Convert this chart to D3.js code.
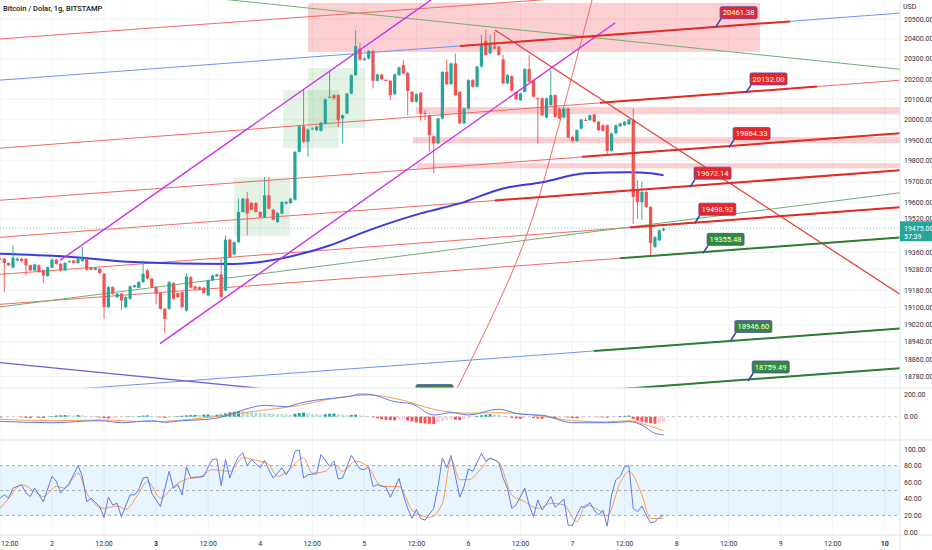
<!DOCTYPE html>
<html>
<head>
<meta charset="utf-8">
<script src="https://cdn.jsdelivr.net/npm/d3@7/dist/d3.min.js"></script>
<style>
  body { margin: 0; background: #ffffff; }
  svg { display: block; font-family: Roboto, "Liberation Sans", sans-serif; }
</style>
</head>
<body>
<svg id="chart" width="932" height="550"></svg>
<script>
// hourly candles, the first one is day 1 12:00 (hours counted from day 1 00:00)
var firstHour = 12;
var opens = [19331,19330,19310,19288,19322,19330,19330,19299,19275,19299,
  19275,19248,19288,19326,19306,19275,19316,19322,19310,19319,
  19330,19288,19278,19283,19259,19102,19196,19149,19165,19102,
  19141,19196,19193,19220,19275,19236,19196,19168,19094,19094,
  19215,19168,19172,19086,19243,19199,19196,19193,19157,19228,
  19247,19256,19180,19421,19351,19409,19553,19617,19596,19596,
  19553,19529,19633,19564,19505,19545,19593,19596,19612,19843,
  19968,19892,19955,19949,19946,19982,20110,20121,20121,20006,
  20031,20129,20220,20352,20295,20302,20340,20192,20223,20196,
  20192,20126,20220,20270,20231,20137,20088,20132,20033,20022,
  19919,19884,20006,20236,20175,20278,20137,19982,20055,20195,
  20162,20262,20391,20328,20361,20361,20298,20179,20215,20137,
  20096,20137,20250,20195,20106,20105,20011,20072,20121,20055,
  20011,20055,19916,19896,19957,19999,19998,20026,19990,19973,
  19973,19848,19933,19968,19973,19978,20001,19657,19600,19649,
  19577,19386,19417,19465];
var highs = [19336,19334,19312,19394,19338,19334,19333,19302,19306,19303,
  19278,19293,19330,19330,19309,19314,19322,19325,19334,19386,
  19335,19292,19290,19287,19262,19200,19200,19170,19168,19153,
  19205,19208,19225,19322,19280,19240,19200,19172,19098,19224,
  19220,19172,19176,19260,19248,19203,19200,19197,19232,19255,
  19260,19330,19440,19425,19413,19617,19621,19650,19600,19600,
  19556,19721,19721,19568,19552,19605,19605,19621,19848,19975,
  20146,19958,19962,19970,19990,20105,20245,20125,20125,20026,
  20133,20224,20445,20380,20310,20345,20345,20228,20227,20200,
  20196,20228,20262,20294,20235,20141,20130,20136,20047,20026,
  19923,20010,20240,20297,20282,20327,20141,20060,20200,20200,
  20266,20420,20445,20420,20436,20365,20320,20225,20220,20141,
  20133,20255,20320,20199,20110,20110,20110,20245,20125,20060,
  20060,20060,19920,19953,20005,20010,20026,20030,19994,19977,
  19977,19937,19977,19986,19994,20005,20055,19705,19700,19655,
  19581,19438,19470,19478];
var lows = [19325,19173,19295,19285,19318,19315,19251,19270,19270,19262,
  19215,19244,19284,19302,19270,19271,19312,19306,19306,19315,
  19274,19275,19274,19258,19047,19098,19160,19145,19087,19098,
  19137,19192,19190,19215,19232,19192,19118,19090,18980,19090,
  19137,19145,19098,19082,19189,19184,19180,19164,19153,19224,
  19243,19145,19176,19334,19346,19404,19549,19441,19560,19549,
  19525,19525,19565,19512,19501,19541,19589,19592,19608,19839,
  19885,19819,19950,19945,19942,19978,20105,20100,19965,19884,
  20027,20125,20216,20290,20290,20298,20154,20188,20195,20190,
  20096,20122,20216,20224,20022,20084,20084,19995,19998,19843,
  19738,19880,20002,20171,20171,20117,19978,19978,20050,20158,
  20158,20258,20316,20324,20348,20316,20175,20175,20138,20096,
  20092,20133,20183,20109,19884,20018,20006,20068,20010,20002,
  20007,19909,19892,19892,19953,19993,19994,19986,19945,19942,
  19827,19844,19929,19964,19969,19974,19495,19521,19516,19572,
  19346,19380,19412,19460];
var closes = [19330,19310,19299,19335,19330,19319,19299,19275,19303,19267,
  19251,19290,19326,19306,19275,19310,19318,19310,19330,19330,
  19278,19278,19286,19262,19102,19196,19165,19165,19133,19149,
  19199,19204,19220,19259,19236,19196,19165,19094,19047,19220,
  19141,19149,19102,19246,19193,19188,19184,19168,19228,19251,
  19256,19149,19421,19338,19409,19553,19617,19545,19564,19553,
  19529,19633,19569,19516,19548,19601,19601,19617,19843,19968,
  19892,19952,19957,19965,19985,20100,20113,20105,19998,20022,
  20129,20220,20364,20297,20302,20340,20192,20223,20199,20195,
  20121,20223,20258,20228,20142,20088,20126,20031,20031,19924,
  19884,20006,20236,20175,20278,20121,19982,20055,20195,20162,
  20262,20369,20320,20369,20352,20320,20179,20220,20142,20100,
  20129,20250,20187,20113,20105,20022,20105,20121,20014,20006,
  20055,19913,19896,19949,20001,19998,20022,19990,19949,19946,
  19848,19933,19973,19982,19990,20001,19625,19600,19649,19577,
  19405,19433,19465,19473];

var lastPrice = 19475.00;
var countdown = "57:39";

// moving average: [hour, price]
var maPoints = [[12,19354],[27,19341],[43,19314],[58,19306],[66,19305],[79,19341],[88,19393],
  [97,19465],[109,19546],[118,19594],[128,19666],[137,19696],[147,19739],[157,19744],[162,19739],[165,19729]];

// MACD pane: [hour, value]
var macdLine = [[12,-41],[24,-53],[35,-35],[40,-53],[47,-35],[50,-49],[54,-35],[60,-23],[64,6],[68,59],
  [73,100],[78,88],[81,118],[85,147],[89,162],[93,183],[95,200],[97,198],[103,133],[107,112],[112,15],
  [116,36],[120,15],[127,66],[132,22],[137,13],[144,-53],[152,-53],[157,-44],[160,-73],[163,-146],[165,-161]];
var signalLine = [[12,-23],[24,-35],[35,-29],[47,-44],[58,-15],[66,23],[70,44],[81,100],[89,162],[97,191],
  [104,153],[112,65],[117,36],[120,31],[127,36],[135,15],[144,-35],[152,-46],[157,-35],[161,-73],[165,-123]];
var macdHist = [-8,-6,-5,-4,-3, -6,-10,-12, -5,-10,-12, -4,
  6,10,12,14,12,10,14,12, 5,2,-3, -8,-12,-16,-14,-12,-6, 2,4,2,6, 10,12,8,5, -6,-10, -4,2,5,
  8,12,14,16,15,18,20,16,18,20, 30,38,44,48,48, 44,40,36,33,30,28,26,24,22,20,18,
  26,32,36, 30,25,21,17, 22,26,28, 22,18,14, 16,18,12,8,4, -6,
  -14,-22,-28,-30,-32, -26,-22, -34,-42,-50,-56,-60,-62,-64, -50,-40,-30,-22,-26,-30,-22,
  -12,-4, 6,12,18,22,20,16, 6,-2, -10,-16,-18, -10,-6, -12,-16,-18, -10, -12,-14,-8, -4,
  -8,-12,-14, -8,-4,-2,-1, -4,-6,-8,-4, 2,6,8,10, -20,-35,-45,-52,-58,-62, -56,-48];

// stochastic RSI pane: [hour, value]
var stochK = [[12,40.7],[13,44.7],[14,40.7],[15,52.8],[17,56.9],[18,46.8],[19,42.7],[20,52.8],[21,44.7],[22,36.6],
  [24,67],[25,61],[26,46.8],[27,52.8],[28,58.9],[30,80],[31,67],[32,36.6],[33,40.7],[35,30.6],[36,17.2],[37,41.9],
  [38,32.6],[39,34.6],[40,18.4],[42,44.7],[43,44.7],[44,50.8],[45,65],[46,66.2],[47,46.8],[49,30.6],[51,73.1],
  [52,52.8],[53,56.9],[54,44.7],[55,78.4],[56,65],[57,66.2],[58,66.2],[59,67],[60,78.4],[61,87.3],[62,88.1],
  [63,55.7],[64,87.3],[65,65],[66,80],[67,90.5],[68,95.4],[69,80],[70,87.3],[72,77.2],[73,86.5],[74,75.1],
  [75,65],[76,71],[77,77.2],[78,69],[79,78],[80,97],[81,99],[82,65],[83,69],[85,70.3],[86,93.4],[88,79.2],
  [89,85.3],[90,63.8],[91,65],[93,92.2],[95,76],[96,75.1],[97,78.4],[98,54.9],[99,56.9],[101,54.1],[102,41.9],
  [103,52.8],[104,64.6],[105,44.7],[106,28.5],[107,16.3],[108,27.3],[109,16.3],[110,14.3],[112,28.5],[113,54.9],
  [114,89.3],[115,77.2],[116,92.2],[118,41.9],[119,55],[120,76],[121,73.1],[123,94.6],[124,85.3],[125,89.3],
  [127,84.1],[128,65],[129,52.8],[130,28.5],[131,32.6],[133,52.8],[134,32.6],[135,18.4],[136,38.6],[137,26.5],
  [138,33.8],[139,42.7],[140,29.7],[142,39.5],[143,8.3],[144,7.9],[145,20.4],[146,30.6],[147,29.7],[148,35.4],
  [149,26.5],[150,20.4],[151,26.5],[152,7.1],[153,44.7],[154,63],[155,67],[156,78.4],[157,80],[158,28.5],
  [159,24.5],[160,31.4],[161,20.4],[162,11],[163,12.3],[164,17.6],[165,20.4]];
var stochD = [[12,28.5],[14,40.7],[17,56.9],[20,48.8],[22,42.7],[25,54.9],[27,52.8],[30,71],[32,46.8],[36,28.5],
  [39,31.4],[41,27.3],[44,46.8],[46,61],[49,40.7],[52,54.9],[55,63.8],[58,66.2],[61,75.1],[65,73.1],[68,89.3],
  [71,86.5],[74,81.2],[76,67],[78,71.9],[82,89.3],[84,71],[87,73.1],[89,81.2],[91,73.1],[94,85.3],[97,77.2],
  [100,54.9],[104,54.9],[107,26.5],[110,18.4],[111,17.6],[114,34.6],[116,87.3],[118,63],[120,63],[123,76.6],
  [125,88.1],[127,84.1],[130,44.7],[133,36.6],[136,28.5],[139,34.6],[142,32.6],[145,12.3],[147,32.6],[150,26.5],
  [152,19.2],[155,59.4],[157,73.1],[160,44.7],[162,16.3],[165,16.3]];

// axes
var priceTicks = [20500,20400,20300,20200,20100,20000,19900,19800,19700,19600,19520,19360,19280,19180,19100,19020,18940,18860,18780];
var macdTicks = [200, 0];
var rsiTicks = [100, 80, 60, 40, 20, 0];
var timeTicks = [12,24,36,48,60,72,84,96,108,120,132,144,156,168,180,192,204,216];
var timeLabels = ["12:00","2","12:00","3","12:00","4","12:00","5","12:00","6","12:00","7","12:00","8","12:00","9","12:00","10"];
var boldTimeLabels = ["3", "10"];

// drawings: [kind, hour1, price1, hour2, price2, extend]
var drawnLines = [
  ["redThin", 12.01, 20400, 216.74, 20723, "both"],
  ["blueThin", 12.01, 20195, 216.74, 20525, "both"],
  ["redThin", 12.01, 19861, 216.74, 20190, "both"],
  ["redThin", 12.01, 19609, 216.74, 19929, "both"],
  ["redThin", 12.01, 19432, 216.74, 19749, "both"],
  ["redThin", 12.01, 19256, 216.74, 19571, "both"],
  ["redThin", 12.01, 19115, 216.74, 19427, "both"],
  ["greenThin", 12.01, 19103, 216.74, 19638, "both"],
  ["blueThin", 12.01, 18697, 216.74, 18998, "both"],
  ["blueThin", 12.01, 18511, 216.74, 18814, "both"],
  ["violet", 12.01, 18844, 72.2, 18725, "right"],
  ["greenThin", 65.04, 20596, 216.74, 20255, "both"],
  ["magenta", 48.9, 18932, 153.8, 20480, "none"],
  ["magenta", 25.85, 19322, 111.4, 20596, "none"],
  ["redTrend", 126.1, 20445, 216.74, 19199, "right"],
  ["redThick", 118.07, 20365, 194.15, 20488, "none"],
  ["redThick", 150.34, 20083, 200.37, 20163, "none"],
  ["redThick", 146.2, 19819, 216.74, 19929, "right"],
  ["redThick", 126.1, 19608, 216.74, 19749, "right"],
  ["redThick", 157.26, 19479, 216.74, 19571, "right"],
  ["greenThick", 154.96, 19332, 216.74, 19427, "right"],
  ["greenThick", 148.96, 18898, 216.74, 18998, "right"],
  ["greenThick", 107.0, 18651, 216.74, 18814, "right"]
];
// curved drawing: [hour, price]
var arcPoints = [[117.4,18725],[131.2,19322],[139.5,19866],[147.3,20495],[148.5,20596]];

// price labels on the lines
var labelHours = [177.1, 184.0, 180.1, 171.1, 172.2, 174.1, 180.5, 184.5, 107.0];
var labelPrices = [20461.38, 20132.00, 19864.33, 19672.14, 19498.92, 19355.48, 18946.60, 18759.49, 18651.00];
var labelKinds = ["red","red","red","red","red","green","green","green","green"];

// rectangles: [hour1, price1, hour2, price2]
var pinkBoxes = [[83.0,20581,187.2,20335],[107.9,20062,219.5,20027.5],[107.2,19915,219.5,19885],[108.2,19788,219.5,19763]];
var greenBoxes = [[66.0,19720,78.9,19437],[77.3,20146,90.2,19861],[83.0,20255,96.2,19959]];

var svg = d3.select("#chart");
var W = 932, H = 550, plotW = 900;
var mainB = 388, macdB = 440, rsiB = 535;

var x = d3.scaleLinear().domain([12.01, 219.5]).range([0, plotW]);
var y = d3.scaleLog().domain([18780, 20500]).range([376.5, 19]);
var yMacd = d3.scaleLinear().domain([0, 200]).range([416.7, 394]);
var yRsi = d3.scaleLinear().domain([0, 100]).range([532, 449]);

var styles = {
  redThin: {c: "#f26a62", w: 1},
  blueThin: {c: "#6f93ee", w: 1},
  greenThin: {c: "#72ad74", w: 1},
  violet: {c: "#6b5fd8", w: 1.2},
  magenta: {c: "#cc2fe6", w: 1.4},
  redTrend: {c: "#e8413a", w: 1.3},
  redThick: {c: "#e52a23", w: 2},
  greenThick: {c: "#2e7d32", w: 2}
};

var defs = svg.append("defs");
function addClip(id, top, bottom) {
  defs.append("clipPath").attr("id", id).append("rect")
    .attr("x", 0).attr("y", top).attr("width", plotW).attr("height", bottom - top);
}
addClip("clipMain", 0, mainB);
addClip("clipMacd", mainB, macdB);
addClip("clipRsi", macdB, rsiB);

// grid
var grid = svg.append("g");
grid.selectAll("line.vg").data(timeTicks).enter().append("line").attr("class", "vg")
  .attr("x1", d => x(d)).attr("x2", d => x(d)).attr("y1", 0).attr("y2", rsiB)
  .attr("stroke", "#f1f3f6").attr("stroke-width", 1);
grid.selectAll("line.hg").data(priceTicks).enter().append("line").attr("class", "hg")
  .attr("x1", 0).attr("x2", plotW).attr("y1", d => y(d)).attr("y2", d => y(d))
  .attr("stroke", "#f1f3f6").attr("stroke-width", 1);

// main pane
var main = svg.append("g").attr("clip-path", "url(#clipMain)");

function boxRect(g, data, fill) {
  g.selectAll(null).data(data).enter().append("rect")
    .attr("x", d => x(d[0])).attr("y", d => y(d[1]))
    .attr("width", d => x(d[2]) - x(d[0])).attr("height", d => y(d[3]) - y(d[1]))
    .attr("fill", fill);
}
boxRect(main, pinkBoxes, "rgba(242,54,69,0.24)");
boxRect(main, greenBoxes, "rgba(76,175,80,0.15)");

// current price line
main.append("line").attr("x1", 0).attr("x2", plotW)
  .attr("y1", y(lastPrice)).attr("y2", y(lastPrice))
  .attr("stroke", "#9fd3cc").attr("stroke-width", 1).attr("stroke-dasharray", "1,2");

function linePoints(d) {
  var x1 = x(d[1]), y1 = y(d[2]), x2 = x(d[3]), y2 = y(d[4]);
  var m = (y2 - y1) / (x2 - x1);
  if (d[5] === "both") { y1 = y1 - m * x1; x1 = 0; }
  if (d[5] === "both" || d[5] === "right") { y2 = y2 + m * (plotW - x2); x2 = plotW; }
  return [x1, y1, x2, y2];
}

var thinKinds = drawnLines.filter(d => d[0] !== "redThick" && d[0] !== "greenThick");
var thickKinds = drawnLines.filter(d => d[0] === "redThick" || d[0] === "greenThick");

function drawLines(data) {
  main.selectAll(null).data(data).enter().append("line")
    .each(function(d) {
      var p = linePoints(d);
      d3.select(this).attr("x1", p[0]).attr("y1", p[1]).attr("x2", p[2]).attr("y2", p[3]);
    })
    .attr("stroke", d => styles[d[0]].c)
    .attr("stroke-width", d => styles[d[0]].w);
}
drawLines(thinKinds.filter(d => d[0] !== "magenta" && d[0] !== "redTrend"));

main.append("path").datum(arcPoints)
  .attr("d", d3.line().x(d => x(d[0])).y(d => y(d[1])).curve(d3.curveNatural))
  .attr("fill", "none").attr("stroke", "#f26a62").attr("stroke-width", 1);

// moving average
main.append("path").datum(maPoints)
  .attr("d", d3.line().x(d => x(d[0])).y(d => y(d[1])).curve(d3.curveMonotoneX))
  .attr("fill", "none").attr("stroke", "#3b3be0").attr("stroke-width", 2);

// candles
var candles = d3.range(opens.length).map(function(i) {
  return {h: firstHour + i, o: opens[i], hi: highs[i], lo: lows[i], c: closes[i]};
});
var up = "#26a69a", down = "#ef5350";
var cg = main.selectAll("g.candle").data(candles).enter().append("g").attr("class", "candle");
cg.append("line")
  .attr("x1", d => x(d.h)).attr("x2", d => x(d.h))
  .attr("y1", d => y(d.hi)).attr("y2", d => y(d.lo))
  .attr("stroke", d => d.c >= d.o ? up : down).attr("stroke-width", 0.9);
cg.append("rect")
  .attr("x", d => x(d.h) - 1.6).attr("width", 3.2)
  .attr("y", d => y(Math.max(d.o, d.c)))
  .attr("height", d => Math.max(1, y(Math.min(d.o, d.c)) - y(Math.max(d.o, d.c))))
  .attr("fill", d => d.c >= d.o ? up : down);

drawLines(thinKinds.filter(d => d[0] === "magenta" || d[0] === "redTrend"));
drawLines(thickKinds);

// labels on the lines
var labels = labelHours.map((h, i) => ({h: h, p: labelPrices[i], k: labelKinds[i]}));
var lg = main.selectAll("g.lbl").data(labels).enter().append("g").attr("class", "lbl")
  .attr("transform", d => "translate(" + x(d.h) + "," + y(d.p) + ")");
lg.append("line").attr("x1", 0).attr("y1", 0).attr("x2", 5).attr("y2", -8)
  .attr("stroke", "#3f4aa8").attr("stroke-width", 1.6);
lg.append("rect").attr("x", 4).attr("y", -20).attr("width", 37).attr("height", 12).attr("rx", 1.5)
  .attr("fill", d => d.k === "red" ? "#e5262a" : "#2f8a3c")
  .attr("stroke", "#5848a8").attr("stroke-width", 0.8);
lg.append("text").attr("x", 22.5).attr("y", -11.3).attr("text-anchor", "middle")
  .attr("font-size", 7.6).attr("fill", "#ffffff")
  .text(d => d.p.toFixed(2));

// MACD pane
var macdG = svg.append("g").attr("clip-path", "url(#clipMacd)");
macdG.append("line").attr("x1", 0).attr("x2", plotW).attr("y1", yMacd(0)).attr("y2", yMacd(0))
  .attr("stroke", "#b2b5be").attr("stroke-width", 0.8).attr("stroke-dasharray", "3,3");
macdG.selectAll("rect.hb").data(macdHist).enter().append("rect").attr("class", "hb")
  .attr("x", (d, i) => x(firstHour + i) - 1.5).attr("width", 3)
  .attr("y", d => Math.min(yMacd(0), yMacd(d)))
  .attr("height", d => Math.abs(yMacd(d) - yMacd(0)))
  .attr("fill", function(d, i) {
    var prev = i > 0 ? macdHist[i - 1] : d;
    if (d >= 0) return prev < d ? "#26a69a" : "#b2dfdb";
    return prev < d ? "#ffcdd2" : "#ff5252";
  });
var lm = d3.line().x(d => x(d[0])).y(d => yMacd(d[1])).curve(d3.curveMonotoneX);
macdG.append("path").datum(signalLine).attr("d", lm).attr("fill", "none").attr("stroke", "#ff9a4a").attr("stroke-width", 1);
macdG.append("path").datum(macdLine).attr("d", lm).attr("fill", "none").attr("stroke", "#5b7cf0").attr("stroke-width", 1);

// stochastic RSI pane
var rsiG = svg.append("g").attr("clip-path", "url(#clipRsi)");
rsiG.append("rect").attr("x", 0).attr("width", plotW)
  .attr("y", yRsi(80)).attr("height", yRsi(20) - yRsi(80)).attr("fill", "rgba(33,150,243,0.1)");
rsiG.selectAll("line.rl").data([80, 50, 20]).enter().append("line").attr("class", "rl")
  .attr("x1", 0).attr("x2", plotW).attr("y1", d => yRsi(d)).attr("y2", d => yRsi(d))
  .attr("stroke", "#9598a1").attr("stroke-width", 0.8).attr("stroke-dasharray", "3,3");
rsiG.append("path").datum(stochD)
  .attr("d", d3.line().x(d => x(d[0])).y(d => yRsi(d[1])).curve(d3.curveMonotoneX))
  .attr("fill", "none").attr("stroke", "#ff9a4a").attr("stroke-width", 1);
rsiG.append("path").datum(stochK)
  .attr("d", d3.line().x(d => x(d[0])).y(d => yRsi(d[1])))
  .attr("fill", "none").attr("stroke", "#5b7cf0").attr("stroke-width", 1);

// separators
svg.selectAll("line.sep").data([mainB, macdB, rsiB]).enter().append("line").attr("class", "sep")
  .attr("x1", 0).attr("x2", W).attr("y1", d => d).attr("y2", d => d)
  .attr("stroke", "#e0e3eb").attr("stroke-width", 1);
svg.append("line").attr("x1", plotW).attr("x2", plotW).attr("y1", 0).attr("y2", H)
  .attr("stroke", "#e0e3eb").attr("stroke-width", 1);

var py = y(lastPrice);
svg.append("rect").attr("x", plotW).attr("y", py - 7).attr("width", W - plotW).attr("height", 20).attr("fill", "#26a69a");
svg.append("text").attr("x", 904).attr("y", py + 2.5).attr("font-size", 7).attr("fill", "#ffffff").text(lastPrice.toFixed(2));
svg.append("text").attr("x", 904).attr("y", py + 10.5).attr("font-size", 7).attr("fill", "#ffffff").text(countdown);

// time axis (the first tick sits on the left edge, so it is anchored at its start)
var axisText = "#2a2e39";
svg.append("g").attr("font-size", 7).attr("fill", axisText)
  .selectAll("text.tt").data(timeTicks).enter().append("text").attr("class", "tt")
  .attr("x", d => Math.max(1, x(d))).attr("y", 545.5)
  .attr("text-anchor", d => x(d) < 10 ? "start" : "middle")
  .attr("font-weight", (d, i) => boldTimeLabels.indexOf(timeLabels[i]) >= 0 ? 700 : 400)
  .text((d, i) => timeLabels[i]);

// title
svg.append("text").attr("x", 3).attr("y", 11).attr("font-size", 7.5).attr("font-weight", 500)
  .attr("fill", "#131722").text("Bitcoin / Dolar, 1g, BITSTAMP");

// right axes, one text per tick, drawn last so nothing covers them
var ax = svg.append("g").attr("font-size", 7).attr("fill", axisText);
function axisLabel(yPos, str) {
  ax.append("text").attr("x", 904).attr("y", yPos + 2.5).text(str);
}
ax.append("text").attr("x", 903).attr("y", 9).text("USD");
priceTicks.forEach(function(v) { axisLabel(y(v), v.toFixed(2)); });
macdTicks.forEach(function(v) { axisLabel(yMacd(v), v.toFixed(2)); });
rsiTicks.forEach(function(v) { axisLabel(yRsi(v), v.toFixed(2)); });
</script>
</body>
</html>
